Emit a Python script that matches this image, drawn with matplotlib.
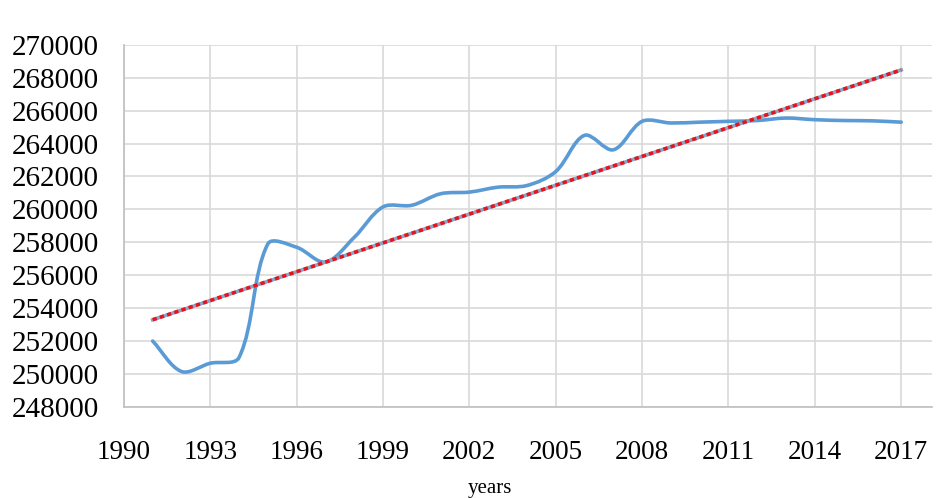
import numpy as np
import matplotlib
matplotlib.use("Agg")
import matplotlib.pyplot as plt
from matplotlib.path import Path
from matplotlib.patches import PathPatch

# Valeurs
years = list(range(1991, 2018))
values = [252000, 250150, 250650, 251000, 257900, 257700, 256800, 258300,
          260150, 260250, 260950, 261050, 261350, 261450, 262300, 264500,
          263620, 265350, 265250, 265300, 265350, 265400, 265550, 265450,
          265400, 265380, 265300]
x_ticks = list(range(1990, 2018, 3))
y_ticks = list(range(248000, 270001, 2000))

plt.rcParams['font.family'] = ['Liberation Serif', 'DejaVu Serif']

# echelle approx. en pixels, pour le lissage facon Excel
SX = 28.8
SY = 32.9 / 2000


def smooth_path(x, y):
    x = np.asarray(x, dtype=float)
    y = np.asarray(y, dtype=float)
    px, py = x * SX, y * SY
    n = len(x)
    seg = np.hypot(np.diff(px), np.diff(py))
    fwd, back = [], []
    for i in range(n):
        i0 = max(i - 1, 0)
        i1 = min(i + 1, n - 1)
        dx, dy = x[i1] - x[i0], y[i1] - y[i0]
        lp = seg[i - 1] if i > 0 else 0
        ln = seg[i] if i < n - 1 else 0
        tot = lp + ln
        fwd.append((x[i] + dx * ln / tot / 3, y[i] + dy * ln / tot / 3))
        back.append((x[i] - dx * lp / tot / 3, y[i] - dy * lp / tot / 3))
    verts = [(x[0], y[0])]
    codes = [Path.MOVETO]
    for i in range(n - 1):
        verts += [fwd[i], back[i + 1], (x[i + 1], y[i + 1])]
        codes += [Path.CURVE4] * 3
    return Path(verts, codes)


fig = plt.figure(figsize=(9.53, 4.98), dpi=100)
ax = fig.add_axes([0.130, 0.183, 0.848, 0.727])

ax.set_xlim(1990, 2018.07)
ax.set_ylim(248000, 270000)
ax.set_xticks(x_ticks)
ax.set_yticks(y_ticks)
ax.grid(True, color='#d9d9d9', linewidth=1.2)
ax.set_axisbelow(True)
for s in ['top', 'right']:
    ax.spines[s].set_visible(False)
for s in ['left', 'bottom']:
    ax.spines[s].set_color('#bfbfbf')
    ax.spines[s].set_linewidth(1.2)
ax.tick_params(axis='both', length=0)
ax.tick_params(axis='y', labelsize=21, pad=18)
ax.tick_params(axis='x', labelsize=19.5, pad=24)

# Série principale
patch = PathPatch(smooth_path(years, values), facecolor='none',
                  edgecolor='#5b9bd5', linewidth=2.6, capstyle='round')
ax.add_patch(patch)

# Tendance linéaire
coef = np.polyfit(years, values, 1)
trend = np.polyval(coef, [years[0], years[-1]])
ax.plot([years[0], years[-1]], trend, color='#8da4c4', linewidth=2.6)
ax.plot([years[0], years[-1]], trend, color='#e8141c', linewidth=2.6,
        linestyle=(0, (1.2, 0.9)))

fig.text(0.514, 0.02, 'years', ha='center', va='center', fontsize=15)

fig.savefig('out.png', dpi=100)
